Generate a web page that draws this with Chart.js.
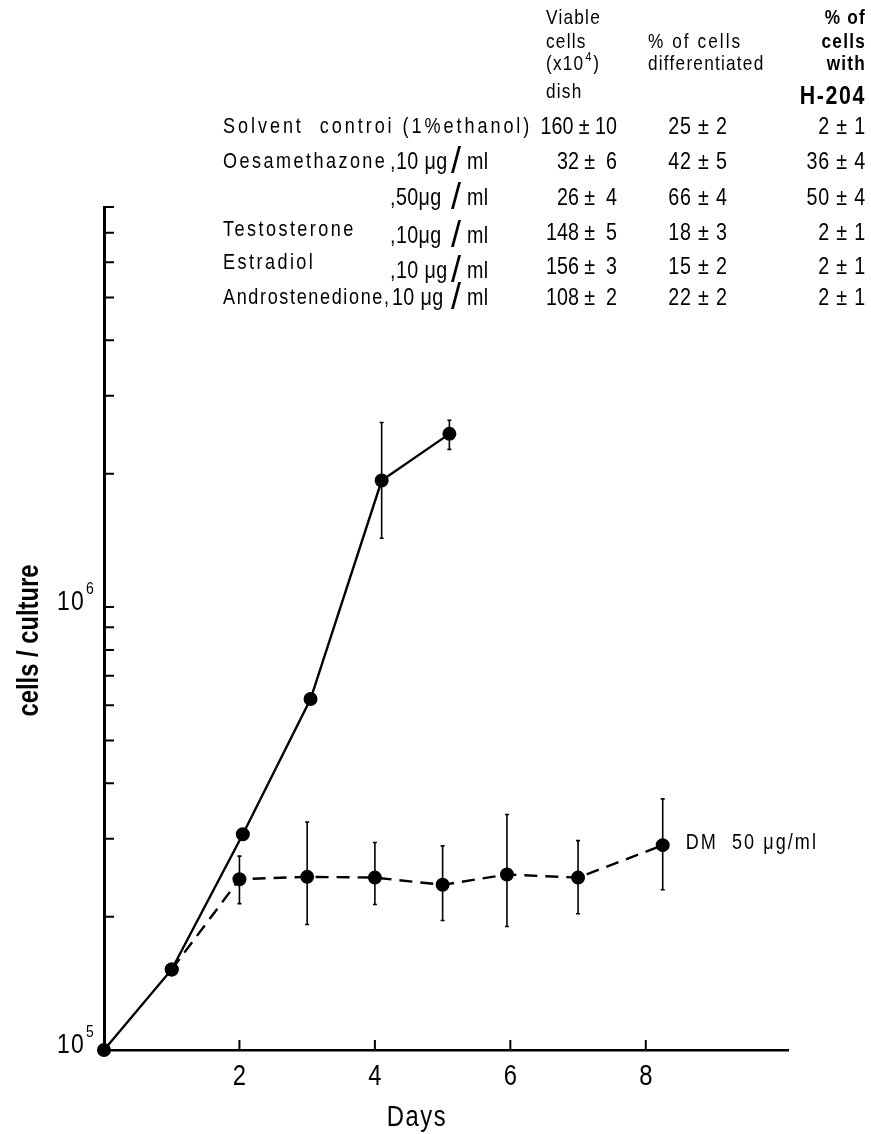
<!DOCTYPE html>
<html>
<head>
<meta charset="utf-8">
<title>cells / culture</title>
<script src="https://cdn.jsdelivr.net/npm/chart.js@4.4.1/dist/chart.umd.min.js"></script>
<style>
  html, body { margin: 0; padding: 0; background: #fff; }
  #chart { display: block; }
</style>
</head>
<body>
<canvas id="chart" width="871" height="1134"></canvas>
<script>
(function(){
    'use strict';

    // growth curves (days, cells per culture)
    const SOLID_DAYS  = [0, 1, 2.05, 3.05, 4.1, 5.1];
    const SOLID_CELLS = [1.0e5, 1.52e5, 3.07e5, 6.2e5, 1.93e6, 2.46e6];
    const SOLID_LOW   = [null, null, null, null, 1.43e6, 2.27e6];
    const SOLID_HIGH  = [null, null, null, null, 2.61e6, 2.64e6];

    const DM_DAYS  = [1, 2, 3, 4, 5, 5.95, 7, 8.25];
    const DM_CELLS = [1.52e5, 2.43e5, 2.46e5, 2.45e5, 2.36e5, 2.49e5, 2.45e5, 2.9e5];
    const DM_LOW   = [null, 2.14e5, 1.92e5, 2.13e5, 1.96e5, 1.9e5, 2.03e5, 2.3e5];
    const DM_HIGH  = [null, 2.74e5, 3.27e5, 2.94e5, 2.89e5, 3.4e5, 2.97e5, 3.69e5];
    const DM_LABEL = 'DM  50 μg/ml';

    // axes
    const X_MIN = 0, X_MAX = 10.1;
    const Y_MIN = 1e5, Y_MAX = 8e6;
    const X_TICKS = [2, 4, 6, 8];
    const Y_LABELS = [{ value: 1e5, exp: '5' }, { value: 1e6, exp: '6' }];
    const Y_MINOR = [2e5, 3e5, 4e5, 5e5, 6e5, 7e5, 8e5, 9e5, 1e6, 2e6, 3e6, 4e6, 5e6, 6e6, 7e6, 8e6];
    const X_TITLE = 'Days';
    const Y_TITLE = 'cells / culture';

    // inset table
    const TREATMENTS = ['Solvent  controi (1%ethanol)', 'Oesamethazone', '', 'Testosterone', 'Estradiol', 'Androstenedione,'];
    const DOSES      = ['', ',10 μg', ',50μg', ',10μg', ',10 μg', '10 μg'];
    const VIABLE     = ['160 ± 10', '32 ±  6', '26 ±  4', '148 ±  5', '156 ±  3', '108 ±  2'];
    const DIFFERENTIATED = ['25 ± 2', '42 ± 5', '66 ± 4', '18 ± 3', '15 ± 2', '22 ± 2'];
    const WITH_H204  = ['2 ± 1', '36 ± 4', '50 ± 4', '2 ± 1', '2 ± 1', '2 ± 1'];

    // Liberation Sans squeezed sideways stands in for the condensed typeface
    const FONT = '"Liberation Sans", Arimo, Arial, sans-serif';
    const NARROW = 0.82;
    const INK = '#000';

    function qs(id){ return document.getElementById(id); }
    function pts(xs, ys){ return xs.map((x, i) => ({ x: x, y: ys[i] })); }

    function text(ctx, str, x, y, size, opts){
        opts = opts || {};
        const sx = opts.sx || NARROW;
        ctx.save();
        ctx.font = (opts.bold ? 'bold ' : '') + size + 'px ' + FONT;
        ctx.fillStyle = INK;
        ctx.textAlign = opts.align || 'left';
        ctx.textBaseline = 'middle';
        if('letterSpacing' in ctx) ctx.letterSpacing = (opts.spacing || 0) + 'px';
        ctx.translate(x, y);
        ctx.scale(sx, 1);
        ctx.fillText(str, 0, 0);
        const w = ctx.measureText(str).width * sx;
        ctx.restore();
        return w;
    }

    // vertical error bars with tiny caps
    const errorBars = {
        id: 'errorBars',
        afterDatasetsDraw(chart){
            const ctx = chart.ctx;
            const xs = chart.scales.x, ys = chart.scales.y;
            ctx.save();
            ctx.strokeStyle = INK;
            ctx.lineWidth = 1.6;
            chart.data.datasets.forEach(ds => {
                if(!ds.errLow) return;
                ds.data.forEach((p, i) => {
                    if(ds.errLow[i] == null) return;
                    const px = xs.getPixelForValue(p.x);
                    const top = ys.getPixelForValue(ds.errHigh[i]);
                    const bot = ys.getPixelForValue(ds.errLow[i]);
                    ctx.beginPath();
                    ctx.moveTo(px, top); ctx.lineTo(px, bot);
                    ctx.moveTo(px - 2, top); ctx.lineTo(px + 2, top);
                    ctx.moveTo(px - 2, bot); ctx.lineTo(px + 2, bot);
                    ctx.stroke();
                });
            });
            ctx.restore();
        }
    };

    // inward ticks, labels, titles and the inset table
    const decorations = {
        id: 'decorations',
        afterDraw(chart){
            const ctx = chart.ctx;
            const xs = chart.scales.x, ys = chart.scales.y;
            const area = chart.chartArea;

            ctx.save();
            ctx.strokeStyle = INK;
            ctx.lineWidth = 2;
            ctx.beginPath();
            Y_MINOR.forEach(v => {
                const py = ys.getPixelForValue(v);
                ctx.moveTo(area.left, py); ctx.lineTo(area.left + 10, py);
            });
            X_TICKS.forEach(v => {
                const px = xs.getPixelForValue(v);
                ctx.moveTo(px, area.bottom); ctx.lineTo(px, area.bottom - 10);
            });
            ctx.stroke();
            ctx.restore();

            X_TICKS.forEach(v => text(ctx, String(v), xs.getPixelForValue(v), area.bottom + 27, 29, { align: 'center' }));
            Y_LABELS.forEach(l => {
                const py = ys.getPixelForValue(l.value) - 4;
                text(ctx, '10', area.left - 19, py, 27, { align: 'right', spacing: 1.5, sx: 0.85 });
                text(ctx, l.exp, area.left - 18, py - 14, 17);
            });

            text(ctx, X_TITLE, (area.left + area.right) / 2 - 29, area.bottom + 68, 29, { align: 'center', spacing: 2 });
            ctx.save();
            ctx.translate(30, (area.top + area.bottom) / 2 + 12);
            ctx.rotate(-Math.PI / 2);
            text(ctx, Y_TITLE, 0, 0, 29, { align: 'center', bold: true });
            ctx.restore();

            // label beside the last DM point
            const last = DM_DAYS.length - 1;
            text(ctx, DM_LABEL, xs.getPixelForValue(DM_DAYS[last]) + 23, ys.getPixelForValue(DM_CELLS[last]) - 2, 22, { spacing: 2.5 });

            // table header
            text(ctx, 'Viable', 546, 18, 21, { spacing: 1.5 });
            text(ctx, 'cells', 546, 42, 21, { spacing: 1.5 });
            let w = text(ctx, '(x10', 546, 64, 21, { spacing: 1.5 });
            w += text(ctx, '4', 547 + w, 57, 13);
            text(ctx, ')', 549 + w, 64, 21);
            text(ctx, 'dish', 546, 92, 21, { spacing: 1.5 });
            text(ctx, '% of cells', 648, 42, 21, { spacing: 2.5 });
            text(ctx, 'differentiated', 648, 64, 21, { spacing: 1.5 });
            text(ctx, '% of', 866, 18, 21, { align: 'right', bold: true, spacing: 1.5 });
            text(ctx, 'cells', 866, 42, 21, { align: 'right', bold: true, spacing: 1.5 });
            text(ctx, 'with', 866, 64, 21, { align: 'right', bold: true, spacing: 1.5 });
            text(ctx, 'H-204', 866, 97, 26, { align: 'right', bold: true, spacing: 2 });

            // table rows
            const rowY = [127, 162, 198, 233, 267, 298];
            const nameShift = [0, 0, 0, -3, -4, 0];
            const doseShift = [0, 0, 0, 3, 4, 0];
            const nameSpacing = [3.6, 3, 3, 3, 3, 2];
            TREATMENTS.forEach((name, i) => {
                const y = rowY[i];
                if(name) text(ctx, name, 223, y + nameShift[i], 22, { spacing: nameSpacing[i] });
                if(DOSES[i]){
                    const dy = y + doseShift[i];
                    text(ctx, DOSES[i], i === 5 ? 392 : 390, dy, 24, { spacing: 0.5 });
                    text(ctx, '/', 456, dy + 1, 36, { align: 'center', sx: 1 });
                    text(ctx, 'ml', 467, dy, 24, { spacing: 0.5 });
                }
                text(ctx, VIABLE[i], 617, y, 24, { align: 'right' });
                text(ctx, DIFFERENTIATED[i], 698, y, 24, { align: 'center', spacing: 1 });
                text(ctx, WITH_H204[i], 866, y, 24, { align: 'right', spacing: 1 });
            });
        }
    };

    function createGrowthChart(ctx){
        return new Chart(ctx, {
            type: 'line',
            data: {
                datasets: [
                    {
                        label: 'control',
                        data: pts(SOLID_DAYS, SOLID_CELLS),
                        errLow: SOLID_LOW,
                        errHigh: SOLID_HIGH,
                        borderColor: INK,
                        borderWidth: 2.4,
                        pointRadius: 5.8,
                        pointBackgroundColor: INK,
                        pointBorderColor: INK,
                        tension: 0,
                        clip: false
                    },
                    {
                        label: DM_LABEL,
                        data: pts(DM_DAYS, DM_CELLS),
                        errLow: DM_LOW,
                        errHigh: DM_HIGH,
                        borderColor: INK,
                        borderWidth: 2.4,
                        borderDash: [13, 8],
                        pointRadius: 5.8,
                        pointBackgroundColor: INK,
                        pointBorderColor: INK,
                        tension: 0,
                        clip: false
                    }
                ]
            },
            options: {
                responsive: false,
                animation: false,
                events: [],
                layout: { padding: { left: 104, right: 83, top: 207, bottom: 84 } },
                scales: {
                    x: {
                        type: 'linear',
                        min: X_MIN,
                        max: X_MAX,
                        grid: { display: false, drawTicks: false },
                        ticks: { display: false },
                        border: { display: true, color: INK, width: 2.5 },
                        afterFit(scale){ scale.height = 0; }
                    },
                    y: {
                        type: 'logarithmic',
                        min: Y_MIN,
                        max: Y_MAX,
                        grid: { display: false, drawTicks: false },
                        ticks: { display: false },
                        border: { display: true, color: INK, width: 3 },
                        afterFit(scale){ scale.width = 0; }
                    }
                },
                plugins: {
                    legend: { display: false },
                    tooltip: { enabled: false }
                }
            },
            plugins: [errorBars, decorations]
        });
    }

    document.addEventListener('DOMContentLoaded', function(){
        createGrowthChart(qs('chart').getContext('2d'));
    });
})();
</script>
</body>
</html>
